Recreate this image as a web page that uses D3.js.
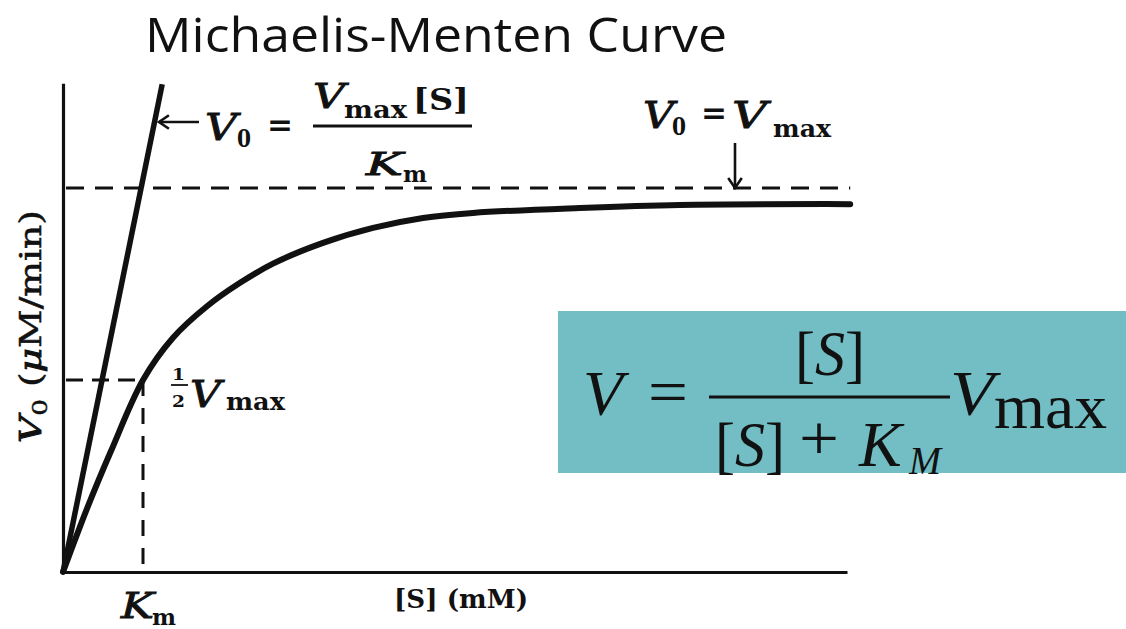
<!DOCTYPE html>
<html>
<head>
<meta charset="utf-8">
<script src="https://cdn.jsdelivr.net/npm/d3@7"></script>
<style>
  html, body { margin: 0; padding: 0; background: #fff; }
  svg { display: block; }
  .tb { font-family: "DejaVu Serif", "Liberation Serif", serif; font-weight: bold; fill: #111; }
  .tbi { font-family: "DejaVu Serif", "Liberation Serif", serif; font-weight: normal; font-style: italic; fill: #111; stroke: #111; stroke-width: 0.9px; }
  .tbr { font-family: "DejaVu Serif", "Liberation Serif", serif; font-weight: normal; fill: #111; stroke: #111; stroke-width: 0.5px; }
  .fm { font-family: "Liberation Serif", "DejaVu Serif", serif; fill: #111; }
</style>
</head>
<body>
<svg id="chart" width="1126" height="629"></svg>
<script>
// Substrate concentration in units of Km, velocity in units of Vmax
const KM = 1;
const VMAX = 1;

// Saturation curve V0 vs [S]
const curveS = [0, 0.3, 0.6, 1.0, 1.375, 1.8, 2.213, 2.625, 3.25, 3.875, 4.5, 5.125, 6.46, 7.71, 9.84];
const curveV = [0, 0.165, 0.315, 0.5, 0.61, 0.692, 0.753, 0.803, 0.857, 0.896, 0.922, 0.935, 0.948, 0.956, 0.958];

// Initial-rate line V0 = Vmax[S]/Km
const initS = [0, 1.24];
const initV = [0, 1.27];

// Axis extents
const sMax = 9.8;
const vTop = 1.273;
const dashEndS = 9.84;

const svg = d3.select("#chart");

const x = d3.scaleLinear().domain([0, KM]).range([63, 143]);
const y = d3.scaleLinear().domain([0, VMAX]).range([572, 188]);

// Title
svg.append("text")
  .attr("x", 145).attr("y", 52)
  .attr("textLength", 582).attr("lengthAdjust", "spacingAndGlyphs")
  .style("font-family", "'Open Sans', 'Noto Sans', sans-serif")
  .style("font-size", "48px").style("fill", "#111")
  .text("Michaelis-Menten Curve");

// Axes (plain lines, no ticks)
const xAxisScale = x.copy().domain([0, sMax]).range([x(0), x(sMax)]);
const yAxisScale = y.copy().domain([0, vTop]).range([y(0), y(vTop)]);
const gx = svg.append("g").attr("transform", `translate(0,${y(0)})`)
  .call(d3.axisBottom(xAxisScale).tickValues([]).tickSizeOuter(0));
const gy = svg.append("g").attr("transform", `translate(${x(0)},0)`)
  .call(d3.axisLeft(yAxisScale).tickValues([]).tickSizeOuter(0));
[gx, gy].forEach(g => g.select(".domain").attr("stroke", "#111").attr("stroke-width", 3.2));

// Reference lines
const dashed = (x1, y1, x2, y2, dash) => svg.append("line")
  .attr("x1", x1).attr("y1", y1).attr("x2", x2).attr("y2", y2)
  .attr("stroke", "#111").attr("stroke-width", 3).attr("stroke-dasharray", dash);

dashed(x(0) + 3, y(VMAX), x(dashEndS), y(VMAX), "18 11");
dashed(x(0) + 3, y(VMAX / 2), x(KM), y(VMAX / 2), "17 9");
dashed(x(KM), y(VMAX / 2), x(KM), y(0) - 6, "16 12");

// Curves
svg.append("path")
  .datum(curveS.map((s, i) => [s, curveV[i]]))
  .attr("d", d3.line().x(d => x(d[0])).y(d => y(d[1])).curve(d3.curveCatmullRom.alpha(0.5)))
  .attr("fill", "none").attr("stroke", "#111").attr("stroke-width", 6)
  .attr("stroke-linecap", "round");
svg.append("path")
  .datum(initS.map((s, i) => [s, initV[i]]))
  .attr("d", d3.line().x(d => x(d[0])).y(d => y(d[1])))
  .attr("fill", "none").attr("stroke", "#111").attr("stroke-width", 5.5);

// Text helper: a single run of text
function txt(px, py, str, size, opt = {}) {
  const cls = opt.cls || (opt.italic ? "tbi" : "tb");
  const t = svg.append("text").attr("class", cls)
    .attr("x", px).attr("y", py)
    .style("font-size", size + "px")
    .text(str);
  if (opt.italic) t.style("font-style", "italic");
  if (opt.len) t.attr("textLength", opt.len).attr("lengthAdjust", "spacingAndGlyphs");
  return t;
}

// Arrow helper (open chevron head)
function arrow(x1, y1, x2, y2, head) {
  svg.append("line").attr("x1", x1).attr("y1", y1).attr("x2", x2).attr("y2", y2)
    .attr("stroke", "#111").attr("stroke-width", 2.6);
  const a = Math.atan2(y2 - y1, x2 - x1);
  const p = (ang) => [x2 - head * Math.cos(a + ang), y2 - head * Math.sin(a + ang)];
  const [l, r] = [p(0.6), p(-0.6)];
  svg.append("path").attr("d", `M${l[0]},${l[1]}L${x2},${y2}L${r[0]},${r[1]}`)
    .attr("fill", "none").attr("stroke", "#111").attr("stroke-width", 2.6);
}

// Initial-rate annotation
arrow(199, 122, 159, 122, 12);
txt(205, 140, "V", 38, { italic: true, len: 32 });
txt(237, 147, "0", 24, { len: 14 });
txt(267, 136, "=", 32, { len: 26 });
txt(313, 108, "V", 34, { italic: true, len: 32 });
txt(344, 118, "max", 24, { len: 63 });
txt(413, 110, "[S]", 30, { len: 56 });
svg.append("line").attr("x1", 313).attr("x2", 472).attr("y1", 126).attr("y2", 126)
  .attr("stroke", "#111").attr("stroke-width", 3);
txt(366, 175, "K", 32, { italic: true, len: 37 });
txt(403, 182, "m", 22, { len: 24 });

// Vmax annotation
txt(643, 128, "V", 38, { italic: true, len: 31 });
txt(672, 135, "0", 24, { len: 14 });
txt(701, 124, "=", 32, { len: 26 });
txt(732, 128, "V", 38, { italic: true, len: 35 });
txt(773, 137, "max", 24, { len: 58 });
arrow(735, 143, 735, 188, 12);

// Half-Vmax annotation
txt(172, 380, "1", 17, { len: 13 });
svg.append("line").attr("x1", 171).attr("x2", 188).attr("y1", 385).attr("y2", 385)
  .attr("stroke", "#111").attr("stroke-width", 1.8);
txt(172, 407, "2", 17, { len: 13 });
txt(190, 407, "V", 37, { italic: true, len: 31 });
txt(226, 410, "max", 24, { len: 59 });

// Km label under the axis
txt(121, 618, "K", 35, { italic: true, len: 33 });
txt(152, 625, "m", 22, { len: 24 });

// Axis titles
txt(394, 608, "[S] (mM)", 26, { len: 134 });
const yl = svg.append("text").attr("class", "tbr")
  .attr("transform", "translate(41,443) rotate(-90)")
  .attr("textLength", 233).attr("lengthAdjust", "spacingAndGlyphs")
  .style("font-size", "30px");
yl.append("tspan").attr("class", "tbi").text("V");
yl.append("tspan").attr("dy", 6).style("font-size", "21px").text("0");
yl.append("tspan").attr("dy", -6).text(" (");
yl.append("tspan").attr("class", "tbi").text("μ");
yl.append("tspan").text("M/min)");

// Rate equation box
svg.append("rect").attr("x", 558).attr("y", 311).attr("width", 568).attr("height", 162)
  .attr("fill", "#72bec4");
txt(583, 415, "V", 64, { cls: "fm", italic: true, len: 40 });
txt(648, 413, "=", 64, { cls: "fm", len: 40 });
txt(795, 375, "[S]", 64, { cls: "fm", len: 70 });
svg.append("line").attr("x1", 709).attr("x2", 950).attr("y1", 397).attr("y2", 397)
  .attr("stroke", "#111").attr("stroke-width", 3);
txt(715, 466, "[S]", 64, { cls: "fm", len: 70 });
txt(799, 460, "+", 64, { cls: "fm", len: 40 });
txt(859, 466, "K", 64, { cls: "fm", italic: true });
txt(909, 474, "M", 40, { cls: "fm", italic: true, len: 32 });
txt(950, 415, "V", 64, { cls: "fm", italic: true, len: 44 });
txt(994, 428, "max", 64, { cls: "fm", len: 113 });

// Italic S inside brackets of the equation
svg.selectAll("text.fm").filter(function () { return this.textContent === "[S]"; })
  .each(function () {
    const s = d3.select(this);
    s.text("");
    s.append("tspan").text("[");
    s.append("tspan").style("font-style", "italic").text("S");
    s.append("tspan").text("]");
  });
</script>
</body>
</html>
